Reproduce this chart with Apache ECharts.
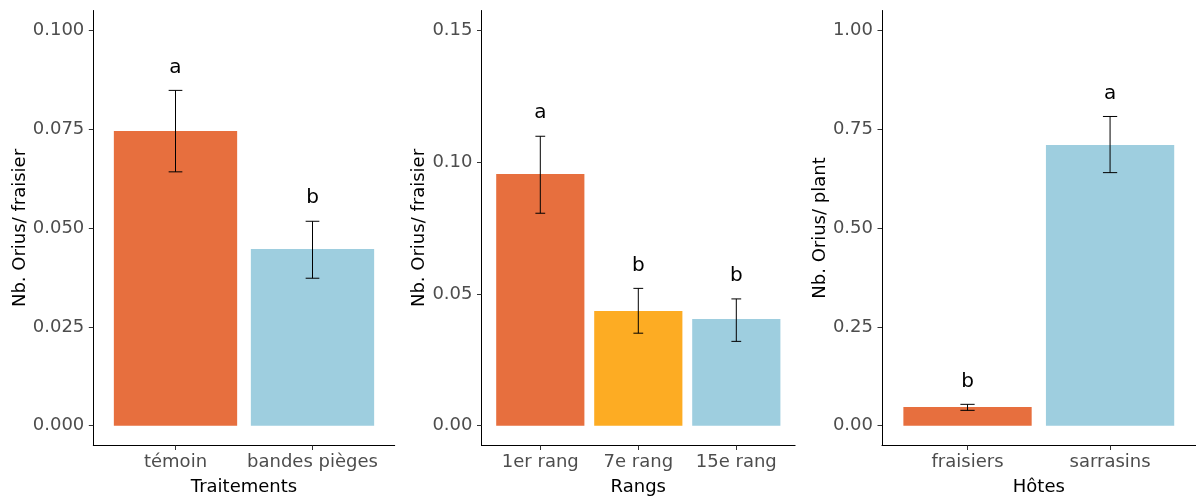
<!DOCTYPE html>
<html>
<head>
<meta charset="utf-8">
<script src="https://cdn.jsdelivr.net/npm/echarts@6/dist/echarts.min.js"></script>
<style>
html,body{margin:0;padding:0;background:#fff;}
#c{width:1196px;height:498px;}
</style>
</head>
<body>
<div id="c"></div>
<script>
// ---- Data ----
// Panel 1: Traitements
const cats1 = ['témoin', 'bandes pièges'];
const means1 = [0.0745, 0.0447];
const low1 = [0.0642, 0.0373];
const high1 = [0.0848, 0.0517];
const letters1 = ['a', 'b'];
const ticks1 = [0, 0.025, 0.05, 0.075, 0.1];

// Panel 2: Rangs
const cats2 = ['1er rang', '7e rang', '15e rang'];
const means2 = [0.0955, 0.0435, 0.0405];
const low2 = [0.0806, 0.0351, 0.0320];
const high2 = [0.1098, 0.0521, 0.0481];
const letters2 = ['a', 'b', 'b'];
const ticks2 = [0, 0.05, 0.10, 0.15];

// Panel 3: Hôtes
const cats3 = ['fraisiers', 'sarrasins'];
const means3 = [0.0473, 0.710];
const low3 = [0.0389, 0.640];
const high3 = [0.0541, 0.782];
const letters3 = ['b', 'a'];
const ticks3 = [0, 0.25, 0.50, 0.75, 1.00];

// ---- Styles ----
const ORANGE = '#E76F3E', YELLOW = '#FDAC23', BLUE = '#9ECEDF';
const FONT = '"DejaVu Sans", "Liberation Sans", Arial, sans-serif';

const panels = [
  {cats: cats1, means: means1, low: low1, high: high1, letters: letters1, ticks: ticks1,
   colors: [ORANGE, BLUE], dec: 3, xname: 'Traitements', yname: 'Nb. Orius/ fraisier',
   left: 93.3, width: 301.4, nameGap: 64},
  {cats: cats2, means: means2, low: low2, high: high2, letters: letters2, ticks: ticks2,
   colors: [ORANGE, YELLOW, BLUE], dec: 2, xname: 'Rangs', yname: 'Nb. Orius/ fraisier',
   left: 481.5, width: 313.6, nameGap: 52},
  {cats: cats3, means: means3, low: low3, high: high3, letters: letters3, ticks: ticks3,
   colors: [ORANGE, BLUE], dec: 2, xname: 'Hôtes', yname: 'Nb. Orius/ plant',
   left: 882, width: 313.6, nameGap: 52}
];

const grid = [], xAxis = [], yAxis = [], series = [];
panels.forEach((p, i) => {
  const n = p.cats.length;
  const xmin = 0.4, xmax = n + 0.6;
  const tmax = p.ticks[p.ticks.length - 1];
  const pad = tmax * 0.05;
  grid.push({left: p.left, top: 10.5, width: p.width, height: 435, containLabel: false, outerBoundsMode: 'none'});
  const xs = p.cats.map((c, k) => k + 1);
  xAxis.push({
    type: 'value', gridIndex: i, min: xmin, max: xmax,
    splitLine: {show: false},
    axisLine: {show: true, onZero: false, lineStyle: {color: '#000', width: 1}},
    axisTick: {show: true, customValues: xs, length: 4.5, lineStyle: {color: '#333'}},
    axisLabel: {customValues: xs, margin: 8, color: '#4D4D4D', fontSize: 18, fontFamily: FONT,
      formatter: v => p.cats[Math.round(v) - 1] || ''},
    name: p.xname, nameLocation: 'middle', nameGap: 33,
    nameTextStyle: {color: '#000', fontSize: 18, fontFamily: FONT}
  });
  yAxis.push({
    type: 'value', gridIndex: i, min: -pad, max: tmax + pad,
    splitLine: {show: false},
    axisLine: {show: true, onZero: false, lineStyle: {color: '#000', width: 1}},
    axisTick: {show: true, customValues: p.ticks, length: 4.5, lineStyle: {color: '#333'}},
    axisLabel: {customValues: p.ticks, margin: 9, color: '#4D4D4D', fontSize: 18, fontFamily: FONT,
      formatter: v => v.toFixed(p.dec)},
    name: p.yname, nameLocation: 'middle', nameGap: p.nameGap,
    nameTextStyle: {color: '#000', fontSize: 18, fontFamily: FONT}
  });
  const pxPerUnit = p.width / (xmax - xmin);
  series.push({
    type: 'bar', xAxisIndex: i, yAxisIndex: i, z: 2,
    barWidth: 0.9 * pxPerUnit,
    silent: true,
    data: p.means.map((m, k) => ({value: [k + 1, m], itemStyle: {color: p.colors[k]}}))
  });
  series.push({
    type: 'custom', xAxisIndex: i, yAxisIndex: i, silent: true, z: 10,
    encode: {x: 0, y: [1, 2]},
    data: p.low.map((l, k) => [k + 1, l, p.high[k]]),
    renderItem: (params, api) => {
      const x = api.value(0), lo = api.value(1), hi = api.value(2);
      const pLo = api.coord([x, lo]), pHi = api.coord([x, hi]);
      const half = (api.coord([x + 0.05, hi])[0] - api.coord([x - 0.05, hi])[0]) / 2;
      const st = {stroke: '#000', lineWidth: 1};
      return {type: 'group', children: [
        {type: 'line', z2: 10, shape: {x1: pHi[0], y1: pHi[1], x2: pLo[0], y2: pLo[1]}, style: st},
        {type: 'line', z2: 10, shape: {x1: pHi[0] - half, y1: pHi[1], x2: pHi[0] + half, y2: pHi[1]}, style: st},
        {type: 'line', z2: 10, shape: {x1: pLo[0] - half, y1: pLo[1], x2: pLo[0] + half, y2: pLo[1]}, style: st},
        {type: 'text', z2: 10, style: {text: p.letters[params.dataIndex], x: pHi[0], y: pHi[1] - 13,
          align: 'center', verticalAlign: 'bottom', fontSize: 20, fontFamily: FONT, fill: '#000'}}
      ]};
    }
  });
});

const chart = echarts.init(document.getElementById('c'), null, {renderer: 'canvas'});
chart.setOption({animation: false, backgroundColor: '#fff', grid, xAxis, yAxis, series});
</script>
</body>
</html>
